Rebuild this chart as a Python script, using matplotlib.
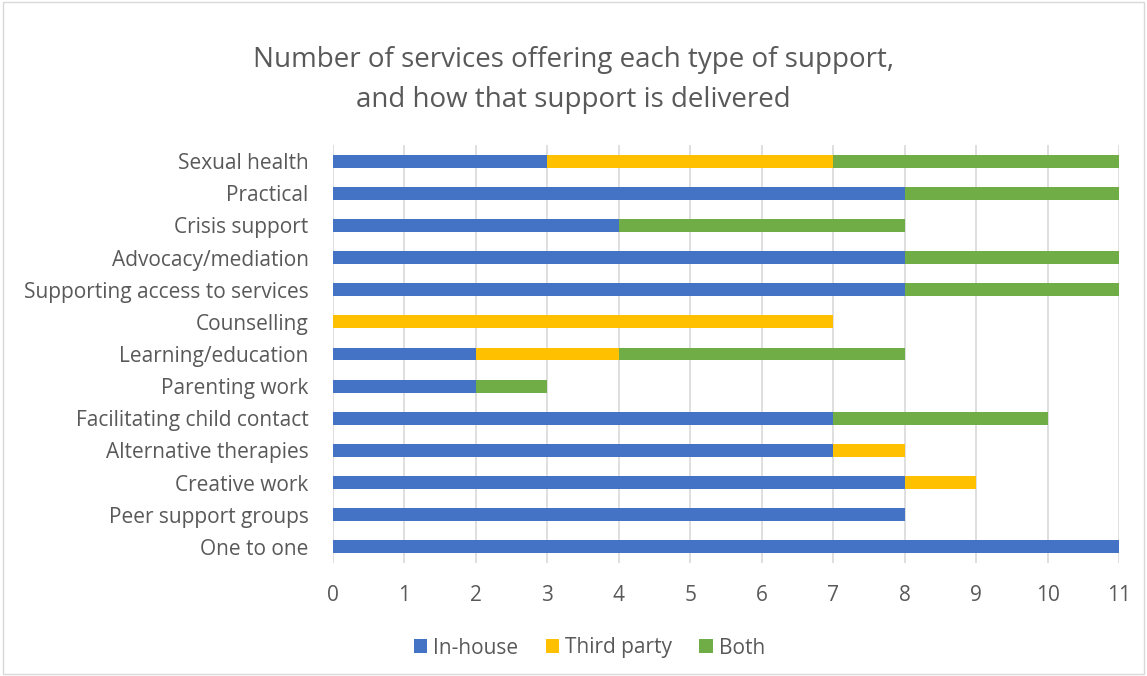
import matplotlib.pyplot as plt
import numpy as np
from matplotlib.patches import Rectangle

plt.rcParams['font.family'] = ['Open Sans', 'DejaVu Sans']

categories = ["One to one", "Peer support groups", "Creative work", "Alternative therapies",
              "Facilitating child contact", "Parenting work", "Learning/education", "Counselling",
              "Supporting access to services", "Advocacy/mediation", "Crisis support",
              "Practical", "Sexual health"]
in_house = [11, 8, 8, 7, 7, 2, 2, 0, 8, 8, 4, 8, 3]
third_party = [0, 0, 1, 1, 0, 0, 2, 7, 0, 0, 0, 0, 4]
both = [0, 0, 0, 0, 3, 1, 4, 0, 3, 3, 4, 3, 4]

BLUE = "#4472C4"
YELLOW = "#FFC000"
GREEN = "#70AD47"
TEXT = "#595959"

fig = plt.figure(figsize=(11.47, 6.76), dpi=100)
ax = fig.add_axes([333/1147, 1 - 563/676, (1119 - 333)/1147, (563 - 145)/676])

y = np.arange(len(categories))
a = np.array(in_house)
b = np.array(third_party)
c = np.array(both)
h = 0.4
ax.barh(y, a, height=h, color=BLUE, label="In-house", zorder=3)
ax.barh(y, b, height=h, left=a, color=YELLOW, label="Third party", zorder=3)
ax.barh(y, c, height=h, left=a + b, color=GREEN, label="Both", zorder=3)

ax.set_xlim(0, 11)
ax.set_ylim(-0.5, len(categories) - 0.5)
ax.set_xticks(range(12))
ax.set_yticks(y)
ax.set_yticklabels(categories)
ax.grid(axis="x", color="#D9D9D9", linewidth=1.2, zorder=0)
for s in ax.spines.values():
    s.set_visible(False)
ax.tick_params(left=False, bottom=False, labelsize=15, colors=TEXT)
ax.tick_params(axis="y", pad=14)
ax.tick_params(axis="x", pad=12)

fig.suptitle("Number of services offering each type of support,\nand how that support is delivered",
             y=0.932, fontsize=20, color=TEXT, linespacing=1.55)

fig.legend(loc="center", bbox_to_anchor=(0.514, 1 - 648/676), ncol=3, frameon=False,
           fontsize=15, labelcolor=TEXT, handlelength=0.65, handleheight=0.65,
           handletextpad=0.3, columnspacing=1.3)

fig.patches.append(Rectangle((0.003, 0.003), 0.994, 0.994, transform=fig.transFigure,
                             fill=False, edgecolor="#D9D9D9", linewidth=1))

plt.savefig("out.png", dpi=100)
